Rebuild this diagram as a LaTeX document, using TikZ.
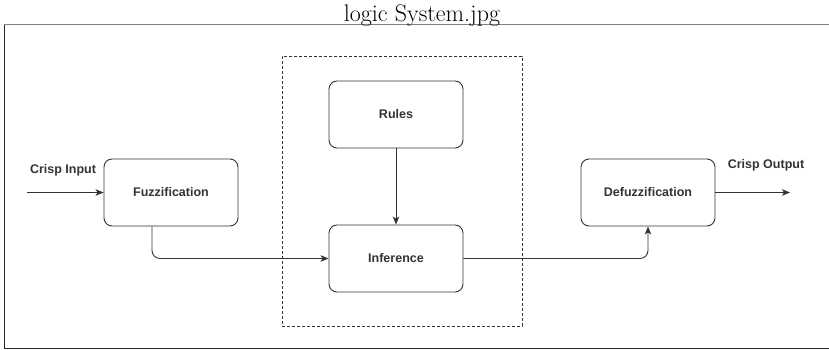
\documentclass[tikz,border=0pt]{standalone}
\usepackage{fontspec}
\newfontfamily\diafont{Liberation Sans}
\usetikzlibrary{arrows.meta}
\definecolor{ink}{HTML}{333333}
\tikzset{
  block/.style={draw=ink, line width=0.9pt, rounded corners=8pt, fill=white,
    minimum width=134pt, minimum height=67pt, font=\diafont\bfseries\fontsize{12.5}{15}\selectfont, text=ink},
  flow/.style={draw=ink, line width=0.9pt, -{Stealth[length=8pt,width=6.5pt,inset=2pt]}},
  lbl/.style={font=\diafont\bfseries\fontsize{12.5}{15}\selectfont, text=ink, inner sep=0pt},
  group/.style={draw=ink, line width=0.8pt, dash pattern=on 3pt off 2pt, minimum width=240pt, minimum height=270pt},
}
\begin{document}
\begin{tikzpicture}[x=1pt, y=-1pt]
  \useasboundingbox (0,0) rectangle (829,350);
  % frame edges and caption
  \draw[black!85, line width=1pt] (4,25) -- (4,348) -- (829,348);
  \draw[gray, line width=1pt] (4,25) -- (829,25);
  \node[anchor=base, inner sep=0pt, font=\fontsize{24}{28}\selectfont] (title) at (422,22) {logic System.jpg};

  % inference group
  \node[group] (grp) at (402,191) {};

  % blocks
  \node[block] (fuzz)   at (171,192.5) {Fuzzification};
  \node[block] (rules)  at (396,114.5) {Rules};
  \node[block] (inf)    at (396,258.5) {Inference};
  \node[block] (defuzz) at (648,192.5) {Defuzzification};

  % inputs and outputs
  \coordinate (in)  at (27,192.5);
  \coordinate (out) at (790,192.5);
  \node[lbl] (inlbl)  at (63,170) {Crisp Input};
  \node[lbl] (outlbl) at (766,165) {Crisp Output};

  % connectors
  \draw[flow] (in) -- (fuzz.west);
  \draw[flow] (rules.south) -- (inf.north);
  \draw[flow, rounded corners=8pt] ([xshift=-19pt]fuzz.south) |- (inf.west);
  \draw[flow, rounded corners=8pt] (inf.east) -| (defuzz.south);
  \draw[flow] (defuzz.east) -- (out);
\end{tikzpicture}
\end{document}
